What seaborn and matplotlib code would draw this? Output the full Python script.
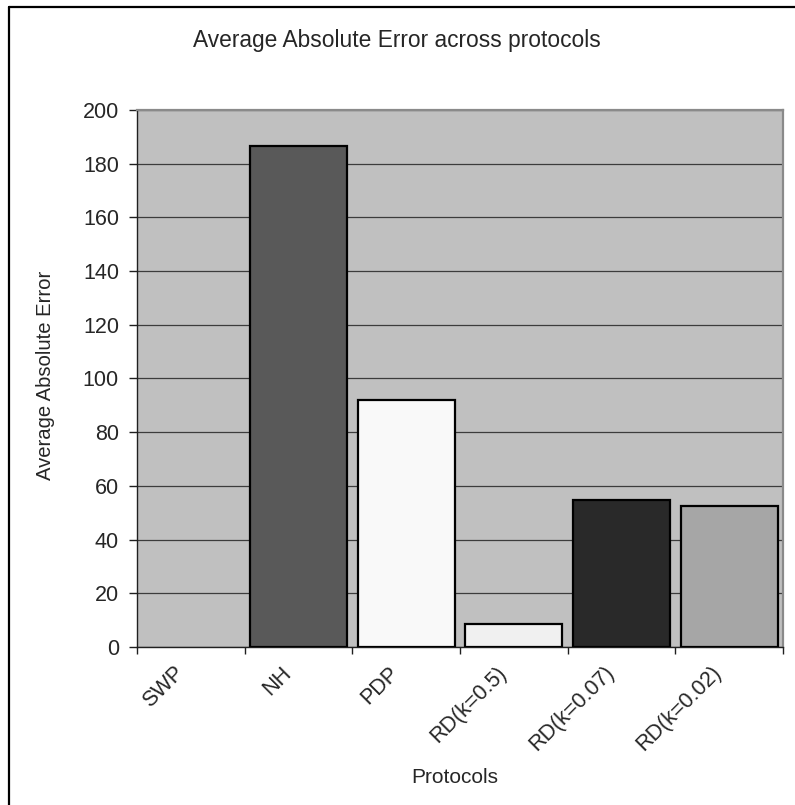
import matplotlib
matplotlib.use("Agg")
import matplotlib.pyplot as plt
import matplotlib.transforms as mtransforms
from matplotlib.lines import Line2D
from matplotlib.ticker import FixedLocator
import seaborn as sns
import pandas as pd

categories = ["SWP", "NH", "PDP", "RD(k=0.5)", "RD(k=0.07)", "RD(k=0.02)"]
values = [0, 186.5, 92, 8.4, 54.8, 52.7]
bar_colors = ["#C0C0C0", "#595959", "#F9F9F9", "#F0F0F0", "#292929", "#A6A6A6"]
y_ticks = [0, 20, 40, 60, 80, 100, 120, 140, 160, 180, 200]

title = "Average Absolute Error across protocols"
x_label = "Protocols"
y_label = "Average Absolute Error"

sns.set_style("white")
plt.rcParams["font.family"] = ["Liberation Sans", "DejaVu Sans"]

fig = plt.figure(figsize=(7.95, 8.05), dpi=100)
ax = fig.add_axes([137 / 795, 1 - 647 / 805, (783 - 137) / 795, (647 - 110) / 805])
ax.set_facecolor("#C0C0C0")

df = pd.DataFrame({"protocol": categories, "error": values})
sns.barplot(data=df, x="protocol", y="error", hue="protocol",
            palette=dict(zip(categories, bar_colors)), width=0.9,
            edgecolor="black", linewidth=1.6, legend=False, ax=ax,
            zorder=3)
for p in ax.patches:
    if p.get_height() == 0:
        p.set_linewidth(0)
        p.set_visible(False)

ax.set_xlim(-0.5, len(categories) - 0.5)
ax.set_ylim(0, 200)
ax.set_yticks(y_ticks)
ax.yaxis.grid(True, color="#3c3c3c", linewidth=0.9, zorder=0)
ax.set_axisbelow(True)
ax.xaxis.grid(False)

for s in ["top", "right"]:
    ax.spines[s].set_color("#8a8a8a")
    ax.spines[s].set_linewidth(1.6)
for s in ["left", "bottom"]:
    ax.spines[s].set_color("#202020")
    ax.spines[s].set_linewidth(1.0)

ax.tick_params(axis="y", direction="out", length=6, width=1, color="#202020",
               labelsize=15.5, pad=7, left=True)
ax.xaxis.set_minor_locator(FixedLocator([i - 0.5 for i in range(len(categories) + 1)]))
ax.tick_params(axis="x", which="minor", direction="out", length=5, width=1,
               color="#202020", bottom=True)
ax.tick_params(axis="x", which="major", length=0, labelsize=15.5, pad=11)
ax.set_xticks(range(len(categories)))
ax.set_xticklabels(categories, rotation=45, ha="right", rotation_mode="anchor")
offset = mtransforms.ScaledTranslation(-18 / 100, 0, fig.dpi_scale_trans)
for lab in ax.get_xticklabels():
    lab.set_transform(lab.get_transform() + offset)

ax.set_xlabel(x_label, fontsize=15)
ax.set_ylabel(y_label, fontsize=14.6)
ax.xaxis.set_label_coords(0.492, -0.225)
ax.yaxis.set_label_coords(-0.127, 0.5065)

fig.text(397 / 795, 1 - 40 / 805, title, ha="center", va="center", fontsize=16.4)

fig.add_artist(Line2D([8.5 / 795, 8.5 / 795], [0, 1 - 7.5 / 805],
                      transform=fig.transFigure, color="black", linewidth=1.6))
fig.add_artist(Line2D([8.5 / 795, 1], [1 - 7.5 / 805, 1 - 7.5 / 805],
                      transform=fig.transFigure, color="black", linewidth=1.6))

fig.savefig("out.png", dpi=100, facecolor="white")
